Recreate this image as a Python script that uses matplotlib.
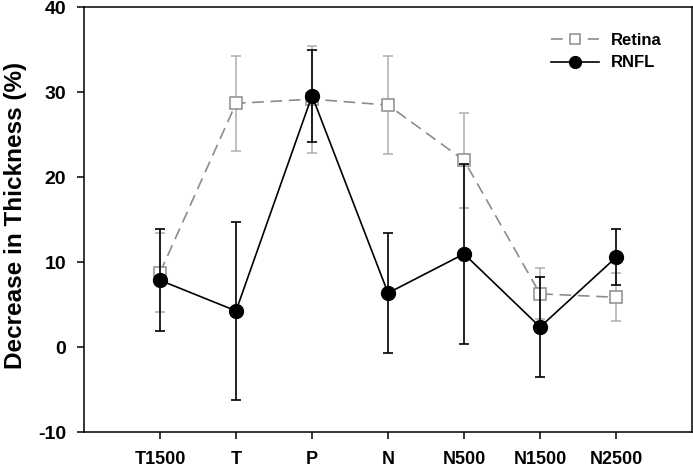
import matplotlib.pyplot as plt

sites = ['T1500', 'T', 'P', 'N', 'N500', 'N1500', 'N2500']
retina = [8.8, 28.7, 29.2, 28.5, 22.0, 6.3, 5.9]
retina_err = [4.6, 5.6, 6.3, 5.8, 5.6, 3.0, 2.8]
rnfl = [7.9, 4.3, 29.6, 6.4, 11.0, 2.4, 10.6]
rnfl_err = [6.0, 10.5, 5.4, 7.1, 10.6, 5.9, 3.3]

plt.rcParams['font.family'] = ['Liberation Sans', 'DejaVu Sans']
plt.rcParams['font.weight'] = 'bold'
plt.rcParams['axes.unicode_minus'] = False

fig = plt.figure(figsize=(6.93, 4.68), dpi=100)
ax = fig.add_axes([0.1212, 0.0759, 0.8775, 0.9085])

xs = list(range(1, len(sites) + 1))

# retina: grey dashed line, open squares, light grey error bars
ax.errorbar(xs, retina, yerr=retina_err, fmt='none', ecolor='#b4b4b4',
            elinewidth=1.2, capsize=3.5, capthick=1.2, zorder=1)
ax.plot(xs, retina, color='#8c8c8c', linestyle=(0, (7, 4)), linewidth=1.2,
        marker='s', markersize=9, markerfacecolor='white',
        markeredgecolor='#8c8c8c', markeredgewidth=1.1, label='Retina', zorder=2)

# RNFL: black solid line, filled circles
ax.errorbar(xs, rnfl, yerr=rnfl_err, fmt='none', ecolor='black',
            elinewidth=1.2, capsize=3.5, capthick=1.2, zorder=3)
ax.plot(xs, rnfl, color='black', linewidth=1.2, marker='o', markersize=10,
        markerfacecolor='black', markeredgecolor='black', label='RNFL', zorder=4)

ax.set_xlim(0, 8)
ax.set_ylim(-10, 40)
ax.set_xticks(xs)
ax.set_xticklabels(sites)
ax.set_yticks([-10, 0, 10, 20, 30, 40])
ax.tick_params(axis='both', direction='out', length=5, width=1.1)
ax.tick_params(axis='y', pad=8, labelsize=14)
ax.tick_params(axis='x', pad=8, labelsize=13)
for lbl in ax.get_xticklabels() + ax.get_yticklabels():
    lbl.set_fontweight('bold')
for s in ax.spines.values():
    s.set_linewidth(1.1)

ax.set_ylabel('Decrease in Thickness (%)', fontsize=17.5, fontweight='bold')
ax.yaxis.set_label_coords(-0.094, 0.51)

leg = ax.legend(loc='upper right', frameon=False, fontsize=12,
                bbox_to_anchor=(0.975, 0.975), handlelength=2.9,
                handletextpad=0.7, labelspacing=0.45, markerscale=0.85)
for t in leg.get_texts():
    t.set_fontweight('bold')

fig.savefig('out.png', dpi=100)
